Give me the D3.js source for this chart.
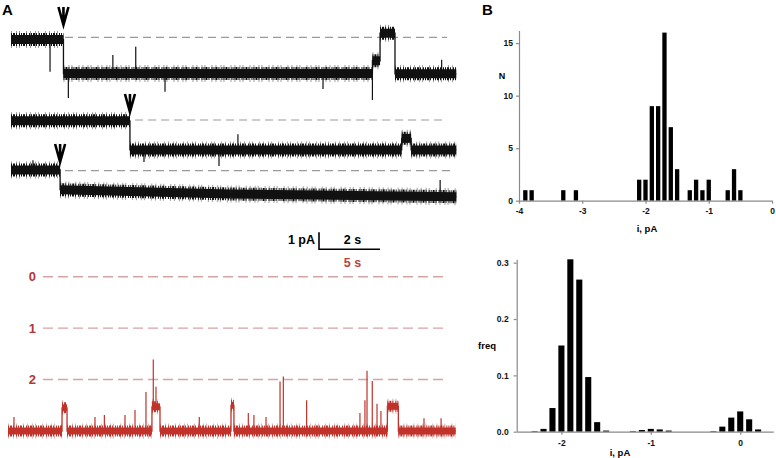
<!DOCTYPE html>
<html>
<head>
<meta charset="utf-8">
<script src="https://cdn.jsdelivr.net/npm/d3@7"></script>
<style>
  body { margin: 0; background: #fff; }
  svg { display: block; font-family: "Liberation Sans", Arial, sans-serif; font-weight: bold; }
</style>
</head>
<body>
<svg id="fig" width="776" height="458"></svg>
<script>
// ---- panel A data: black traces (time in s, current in pA relative to the dashed level) ----
// segment = [start s, end s, level at start, level at end (optional, for slow drift)]
const trace1Segs = [[0, 1.72, -0.13], [1.72, 11.85, -2.13], [11.85, 12.1, -1.38], [12.1, 12.59, 0.24], [12.59, 14.6, -2.15]];
const trace1Spikes = [[1.28, -2.02], [1.88, -3.57], [3.34, -1.04], [4.09, -0.55], [5.05, -3.2], [10.23, -3.04], [11.85, -3.69], [14.12, -1.32]];
const trace2Segs = [[0, 3.9, -0.05], [3.9, 12.81, -1.76], [12.81, 13.12, -1.08], [13.12, 14.6, -1.76]];
const trace2Spikes = [[4.36, -2.47], [6.82, -2.7], [7.44, -0.84]];
const trace3Segs = [[0, 1.61, 0.04], [1.61, 7.2, -1.12, -1.37], [7.2, 14.6, -1.37, -1.53]];
const trace3Spikes = [[0.72, 0.62], [14.07, -0.55]];
const arrowTimes = [1.72, 3.9, 1.61];
const dashedRanges = [[1.77, 14.3], [4.07, 14.17], [1.77, 14.56]];

// ---- red trace (time in s, level in number of closed channels, 3 = baseline) ----
const redSegs = [[0, 4.43, 3], [4.43, 4.84, 2.55], [4.84, 11.8, 3], [11.8, 12.46, 2.53], [12.46, 18.28, 3],
  [18.28, 18.52, 2.5], [18.52, 31.1, 3], [31.1, 32.0, 2.52], [32.0, 36.7, 3]];
const redSpikes = [[0.49, 2.73], [7.13, 2.73], [7.9, 2.69], [9.59, 2.69], [10.41, 2.59], [11.31, 2.24], [11.91, 1.61],
  [12.13, 2.14], [15.68, 2.73], [19.7, 2.65], [20.16, 2.69], [21.15, 2.73], [22.3, 2.04], [22.57, 1.94], [24.48, 2.4],
  [28.85, 2.65], [29.26, 2.4], [29.43, 1.83], [29.86, 2.03], [30.25, 2.47], [30.57, 2.61], [34.1, 2.75], [35.5, 2.75]];
const redLevels = [0, 1, 2];
const redDashed = [2.87, 35.8];

// ---- panel B data ----
const ampBins = [-3.9, -3.8, -3.3, -3.1, -2.1, -2.0, -1.9, -1.8, -1.7, -1.6, -1.5, -1.3, -1.2, -1.1, -1.0, -0.7, -0.6, -0.5];
const ampCounts = [1, 1, 1, 1, 2, 2, 9, 9, 16, 7, 3, 1, 2, 1, 2, 1, 3, 1];
const ampTicksX = [-4, -3, -2, -1, 0];
const ampTicksY = [0, 5, 10, 15];

const freqBins = [-2.3, -2.2, -2.1, -2.0, -1.9, -1.8, -1.7, -1.6, -1.5, -1.2, -1.1, -1.0, -0.9, -0.8, -0.3, -0.2, -0.1, 0.0, 0.1, 0.2];
const freqValues = [0.001, 0.005, 0.042, 0.153, 0.306, 0.27, 0.097, 0.017, 0.002, 0.001, 0.003, 0.005, 0.004, 0.002, 0.001, 0.009, 0.025, 0.036, 0.022, 0.004];
const freqTicksX = [-2, -1, 0];
const freqTicksY = [0, 0.1, 0.2, 0.3];

const svg = d3.select("#fig");
const RED = "#c0332b";

// panel letters
svg.append("text").attr("x", 2).attr("y", 15).attr("font-size", 15).text("A");
svg.append("text").attr("x", 482).attr("y", 15).attr("font-size", 15).text("B");

// ---------- black traces ----------
const xT = d3.scaleLinear().domain([0, 14.6]).range([11, 456.3]);
const rows = [
  { segs: trace1Segs, spikes: trace1Spikes, y0: 37.3, tip: 25 },
  { segs: trace2Segs, spikes: trace2Spikes, y0: 120, tip: 112 },
  { segs: trace3Segs, spikes: trace3Spikes, y0: 170.7, tip: 162 }
];

const endLevel = d => (d.length > 3 ? d[3] : d[2]);

function levelAt(segs, t) {
  const s = segs.find(d => t >= d[0] && t <= d[1]) || segs[segs.length - 1];
  return s[2] + (endLevel(s) - s[2]) * (t - s[0]) / (s[1] - s[0]);
}

function drawTrace(g, segs, spikes, x, y, color, core, fringe) {
  const band = (cls) => g.selectAll("." + cls).data(segs).enter().append("line")
    .attr("x1", d => x(d[0])).attr("x2", d => x(d[1]))
    .attr("y1", d => y(d[2])).attr("y2", d => y(endLevel(d)))
    .attr("stroke", color);
  // fuzzy noise edge
  band("fr1").attr("stroke-width", fringe + 4).attr("opacity", 0.4)
    .attr("stroke-dasharray", "1 4 1 2 1 6 1 3");
  band("fr2").attr("stroke-width", fringe)
    .attr("stroke-dasharray", "1 1 2 1 1 2 1 1");
  band("core").attr("stroke-width", core);
  // transitions between levels
  const pts = [];
  segs.forEach(d => { pts.push([d[0], d[2]]); pts.push([d[1], endLevel(d)]); });
  const path = d3.line().x(d => x(d[0])).y(d => y(d[1]));
  g.append("path").attr("d", path(pts)).attr("fill", "none")
    .attr("stroke", color).attr("stroke-width", 1.3);
  // brief spikes
  g.selectAll(".spike").data(spikes).enter().append("line")
    .attr("x1", d => x(d[0])).attr("x2", d => x(d[0]))
    .attr("y1", d => y(levelAt(segs, d[0]))).attr("y2", d => y(d[1]))
    .attr("stroke", color).attr("stroke-width", 1.2);
}

rows.forEach((r, i) => {
  const y = d3.scaleLinear().domain([0, -1]).range([r.y0, r.y0 + 17]);
  const g = svg.append("g");
  g.append("line")
    .attr("x1", xT(dashedRanges[i][0])).attr("x2", xT(dashedRanges[i][1]))
    .attr("y1", y(0)).attr("y2", y(0))
    .attr("stroke", "#9a9a9a").attr("stroke-width", 1.2).attr("stroke-dasharray", "8 5");
  drawTrace(g, r.segs, r.spikes, xT, y, "#111", 9, 13);
  // arrow marking the step
  const ax = xT(arrowTimes[i]);
  g.append("path")
    .attr("d", `M${ax - 5},${r.tip - 18}L${ax},${r.tip}L${ax + 5},${r.tip - 18}M${ax},${r.tip - 18}L${ax},${r.tip}`)
    .attr("fill", "none").attr("stroke", "#000").attr("stroke-width", 2.6);
});

// scale bar: 1 pA / 2 s
const sbX = 319, sbY = 249.3;
const pA = d3.scaleLinear().domain([0, 1]).range([0, 17]);
const sec = d3.scaleLinear().domain([0, 1]).range([0, 30.5]);
svg.append("path")
  .attr("d", `M${sbX},${sbY - pA(1)}L${sbX},${sbY}L${sbX + sec(2)},${sbY}`)
  .attr("fill", "none").attr("stroke", "#000").attr("stroke-width", 1.6);
svg.append("text").attr("x", sbX - 4).attr("y", 244).attr("text-anchor", "end").attr("font-size", 12.5).text("1 pA");
svg.append("text").attr("x", sbX + sec(1.1)).attr("y", 244).attr("text-anchor", "middle").attr("font-size", 12.5).text("2 s");
svg.append("text").attr("x", sbX + sec(1.1)).attr("y", 266.5).attr("text-anchor", "middle").attr("font-size", 12.5)
  .attr("fill", "#b8433e").text("5 s");

// ---------- red trace ----------
const xR = d3.scaleLinear().domain([0, 36.7]).range([8, 455.7]);
const yR = d3.scaleLinear().domain([0, 3]).range([276.7, 431]);
const gr = svg.append("g");
gr.selectAll(".lvl").data(redLevels).enter().append("line")
  .attr("x1", xR(redDashed[0])).attr("x2", xR(redDashed[1]))
  .attr("y1", d => yR(d)).attr("y2", d => yR(d))
  .attr("stroke", "#d6a4a4").attr("stroke-width", 1.4).attr("stroke-dasharray", "10 5");
gr.selectAll(".lbl").data(redLevels).enter().append("text")
  .attr("x", 36).attr("y", d => yR(d) + 4.5).attr("text-anchor", "end")
  .attr("font-size", 13).attr("fill", "#b3363a").text(d => d);
drawTrace(gr, redSegs, redSpikes, xR, yR, RED, 7, 11);

// ---------- panel B: amplitude histogram ----------
const axisColor = "#8a8a8a";
function styleAxis(sel) {
  sel.selectAll("path,line").attr("stroke", axisColor).attr("stroke-width", 1.2);
  sel.selectAll("text").attr("fill", "#111").attr("font-size", 8.5).attr("font-weight", "bold")
    .attr("font-family", "Liberation Sans, Arial, sans-serif");
}

const xA = d3.scaleLinear().domain([-4, 0]).range([519, 772]);
const yA = d3.scaleLinear().domain([0, 16.2]).range([200.7, 30.5]);
const bwA = xA(0.068) - xA(0);
svg.append("g").selectAll("rect").data(ampBins).enter().append("rect")
  .attr("x", (d, i) => xA(d) - bwA / 2).attr("width", bwA)
  .attr("y", (d, i) => yA(ampCounts[i])).attr("height", (d, i) => yA(0) - yA(ampCounts[i]))
  .attr("fill", "#000");
svg.append("g").attr("transform", `translate(0,${yA(0)})`)
  .call(d3.axisBottom(xA).tickValues(ampTicksX).tickFormat(d => String(d)).tickSize(3).tickSizeOuter(0).tickPadding(4))
  .call(styleAxis);
svg.append("g").attr("transform", `translate(${xA(-4)},0)`)
  .call(d3.axisLeft(yA).tickValues(ampTicksY).tickSize(3).tickSizeOuter(0).tickPadding(3))
  .call(styleAxis);
svg.append("text").attr("x", 502).attr("y", 79).attr("text-anchor", "middle").attr("font-size", 9).text("N");
svg.append("text").attr("x", 647).attr("y", 232).attr("text-anchor", "middle").attr("font-size", 9.5).text("i, pA");

// ---------- panel B: all-points frequency histogram ----------
const xF = d3.scaleLinear().domain([-2.5, 0.37]).range([516.7, 773.3]);
const yF = d3.scaleLinear().domain([0, 0.306]).range([431.7, 259.3]);
const bwF = xF(0.068) - xF(0);
svg.append("g").selectAll("rect").data(freqBins).enter().append("rect")
  .attr("x", d => xF(d) - bwF / 2).attr("width", bwF)
  .attr("y", (d, i) => yF(freqValues[i])).attr("height", (d, i) => yF(0) - yF(freqValues[i]))
  .attr("fill", "#000");
svg.append("g").attr("transform", `translate(0,${yF(0)})`)
  .call(d3.axisBottom(xF).tickValues(freqTicksX).tickFormat(d => String(d)).tickSize(3).tickSizeOuter(0).tickPadding(5))
  .call(styleAxis);
svg.append("g").attr("transform", `translate(${xF(-2.5)},0)`)
  .call(d3.axisLeft(yF).tickValues(freqTicksY).tickFormat(d3.format(".1f")).tickSize(3).tickSizeOuter(0).tickPadding(5))
  .call(styleAxis);
svg.append("text").attr("x", 487).attr("y", 349).attr("text-anchor", "middle").attr("font-size", 9.5).text("freq");
svg.append("text").attr("x", 620).attr("y", 456).attr("text-anchor", "middle").attr("font-size", 9.5).text("i, pA");
</script>
</body>
</html>
